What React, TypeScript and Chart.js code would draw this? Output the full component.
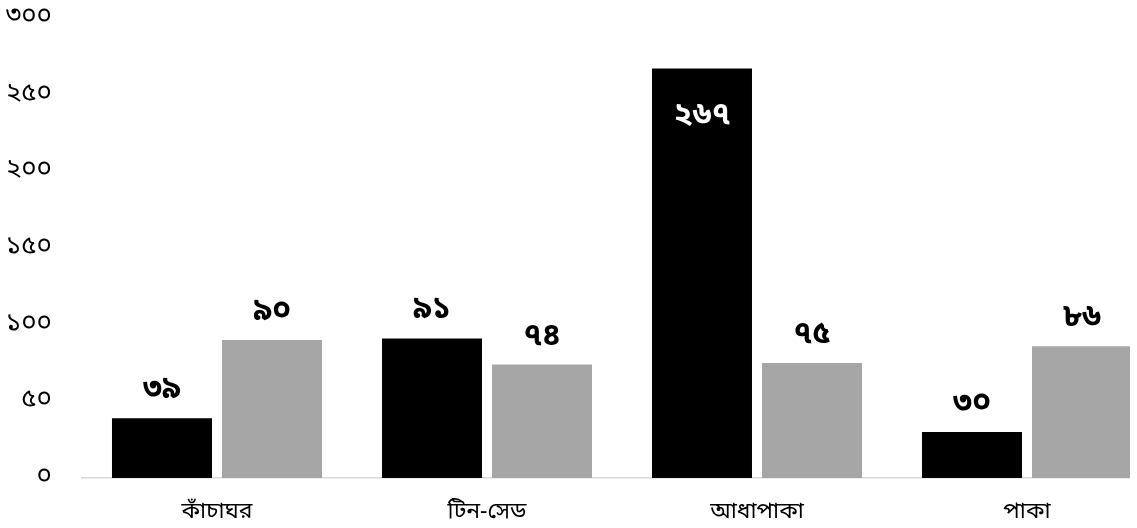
import React, { useEffect, useRef } from "react";
import { Chart, registerables } from "chart.js";

Chart.register(...registerables);

const categories = ["কাঁচাঘর", "টিন-সেড", "আধাপাকা", "পাকা"];
const series1 = [39, 91, 267, 30];
const series2 = [90, 74, 75, 86];
const yTickValues = [0, 50, 100, 150, 200, 250, 300];
const yTickLabels = ["০", "৫০", "১০০", "১৫০", "২০০", "২৫০", "৩০০"];
const bnDigits = ["০", "১", "২", "৩", "৪", "৫", "৬", "৭", "৮", "৯"];

const toBn = (n: number) => String(n).split("").map((d) => bnDigits[+d] ?? d).join("");
const FONT = "'Noto Sans Bengali', Vrinda, 'Noto Sans', sans-serif";

const labelPlugin = {
  id: "barLabels",
  afterDatasetsDraw(chart: any) {
    const ctx = chart.ctx;
    ctx.save();
    ctx.font = `bold 31px ${FONT}`;
    ctx.textAlign = "center";
    ctx.textBaseline = "alphabetic";
    chart.data.datasets.forEach((ds: any, di: number) => {
      const meta = chart.getDatasetMeta(di);
      meta.data.forEach((bar: any, i: number) => {
        const v = ds.data[i];
        const txt = toBn(v);
        if (v > 200) {
          ctx.fillStyle = "#ffffff";
          ctx.fillText(txt, bar.x, bar.y + 55);
        } else {
          ctx.fillStyle = "#000000";
          ctx.fillText(txt, bar.x, bar.y - 20);
        }
      });
    });
    ctx.restore();
  },
};

export default function App() {
  const ref = useRef<HTMLCanvasElement>(null);
  useEffect(() => {
    if (!ref.current) return;
    const chart = new Chart(ref.current, {
      type: "bar",
      data: {
        labels: categories,
        datasets: [
          { data: series1, backgroundColor: "#000000", borderWidth: 0 },
          { data: series2, backgroundColor: "#a6a6a6", borderWidth: 0 },
        ],
      },
      options: {
        responsive: false,
        animation: false,
        layout: { padding: { top: 18, right: 8, left: 0, bottom: 0 } },
        plugins: { legend: { display: false }, tooltip: { enabled: false } },
        datasets: { bar: { categoryPercentage: 0.815, barPercentage: 0.909 } },
        scales: {
          x: {
            grid: { display: false, drawTicks: false },
            border: { display: true, color: "#d9d9d9", width: 1.5 },
            ticks: { color: "#000", font: { family: FONT, size: 23 }, padding: 22 },
            afterFit: (s: any) => { s.height = 50; s.paddingLeft = 0; s.paddingRight = 0; },
          },
          y: {
            min: 0,
            max: 300,
            grid: { display: false, drawTicks: false },
            border: { display: false },
            afterBuildTicks: (s: any) => { s.ticks = yTickValues.map((v) => ({ value: v })); },
            ticks: {
              color: "#000",
              font: { family: FONT, size: 26 },
              padding: 30,
              callback: (v: any) => yTickLabels[yTickValues.indexOf(Number(v))],
            },
            afterFit: (s: any) => { s.width = 82; s.paddingTop = 0; s.paddingBottom = 0; },
          },
        },
      },
      plugins: [labelPlugin],
    });
    return () => chart.destroy();
  }, []);
  return (
    <div style={{ position: "absolute", left: 0, top: 0, width: 1130, height: 528, overflow: "hidden", background: "#fff" }}>
      <canvas ref={ref} width={1170} height={528} style={{ display: "block" }} />
    </div>
  );
}
